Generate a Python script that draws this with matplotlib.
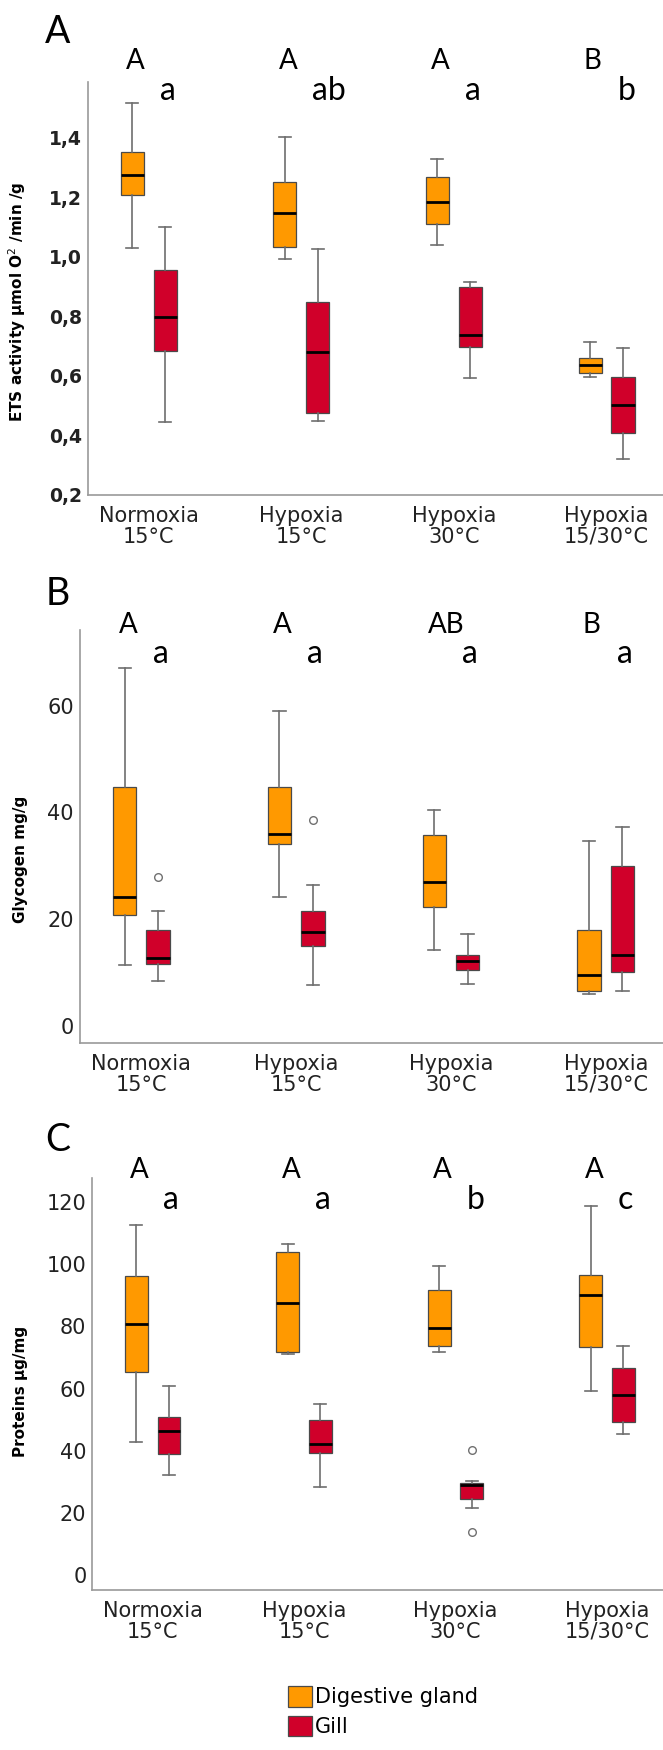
import matplotlib.pyplot as plt
from matplotlib.patches import Patch

plt.rcParams['font.family'] = ['DejaVu Sans']

groups = ["Normoxia\n15°C", "Hypoxia\n15°C", "Hypoxia\n30°C", "Hypoxia\n15/30°C"]
tissues = ["Digestive gland", "Gill"]
colors = ["#FF9900", "#D0002A"]

# each row: whisker low, Q1, median, Q3, whisker high
ets_dg = [[1.028, 1.207, 1.273, 1.352, 1.518],
          [0.991, 1.032, 1.146, 1.250, 1.401],
          [1.040, 1.111, 1.185, 1.268, 1.327],
          [0.597, 0.609, 0.636, 0.658, 0.714]]
ets_gill = [[0.445, 0.682, 0.796, 0.955, 1.098],
            [0.446, 0.474, 0.681, 0.847, 1.024],
            [0.591, 0.696, 0.735, 0.898, 0.913],
            [0.319, 0.406, 0.500, 0.595, 0.694]]
ets_dg_out = [[], [], [], []]
ets_gill_out = [[], [], [], []]
ets_upper = ["A", "A", "A", "B"]
ets_lower = ["a", "ab", "a", "b"]
ets_ticks = [0.2, 0.4, 0.6, 0.8, 1.0, 1.2, 1.4]
ets_ticklabels = ["0,2", "0,4", "0,6", "0,8", "1,0", "1,2", "1,4"]

gly_dg = [[11.4, 20.8, 24.1, 44.8, 67.0],
          [24.2, 34.1, 36.0, 44.8, 59.1],
          [14.3, 22.3, 27.0, 35.8, 40.5],
          [6.0, 6.6, 9.6, 17.9, 34.6]]
gly_gill = [[8.4, 11.6, 12.8, 18.0, 21.6],
            [7.6, 14.9, 17.6, 21.6, 26.5],
            [7.9, 10.5, 12.1, 13.3, 17.3],
            [6.6, 10.1, 13.2, 29.9, 37.2]]
gly_dg_out = [[], [], [], []]
gly_gill_out = [[27.9], [38.5], [], []]
gly_upper = ["A", "A", "AB", "B"]
gly_lower = ["a", "a", "a", "a"]
gly_ticks = [0, 20, 40, 60]

prot_dg = [[42.9, 65.3, 80.7, 96.2, 112.6],
           [71.1, 71.8, 87.5, 103.9, 106.5],
           [71.8, 73.6, 79.4, 91.7, 99.5],
           [59.1, 73.4, 90.0, 96.4, 118.8]]
prot_gill = [[32.3, 38.9, 46.4, 50.7, 60.9],
             [28.4, 39.2, 42.0, 49.9, 55.1],
             [21.5, 24.6, 29.0, 29.7, 30.1],
             [45.5, 49.1, 57.8, 66.6, 73.7]]
prot_dg_out = [[], [], [], []]
prot_gill_out = [[], [], [40.1, 13.8], []]
prot_upper = ["A", "A", "A", "A"]
prot_lower = ["a", "a", "b", "c"]
prot_ticks = [0, 20, 40, 60, 80, 100, 120]

W, H = 663, 1750
fig = plt.figure(figsize=(W / 100, H / 100), dpi=100)


def add_axes(left, top, bottom):
    # pixel positions -> figure fraction
    return fig.add_axes([left / W, 1 - bottom / H, 1 - left / W, (bottom - top) / H])


def stats_of(rows, outliers):
    return [dict(whislo=r[0], q1=r[1], med=r[2], q3=r[3], whishi=r[4], fliers=o)
            for r, o in zip(rows, outliers)]


def draw_panel(ax, dg, gill, dg_out, gill_out, ylim, ticks, ticklabels, bold,
               ylabel, label_xy, upper, lower, y_up, y_low):
    x = range(len(groups))
    off = 0.108
    for rows, outs, color, shift in [(dg, dg_out, colors[0], -off),
                                     (gill, gill_out, colors[1], off)]:
        ax.bxp(stats_of(rows, outs), positions=[i + shift for i in x], widths=0.151,
               patch_artist=True, capwidths=0.08,
               boxprops=dict(facecolor=color, edgecolor="#4a4a4a", linewidth=0.9),
               medianprops=dict(color="black", linewidth=2.0),
               whiskerprops=dict(color="#6e6e6e", linewidth=1.2),
               capprops=dict(color="#6e6e6e", linewidth=1.2),
               flierprops=dict(marker="o", markerfacecolor="none",
                               markeredgecolor="#707070", markersize=5.5))
    ax.set_xlim(-0.4, 3.37)
    ax.set_ylim(*ylim)
    ax.set_xticks(list(x))
    ax.set_xticklabels(groups, fontsize=15, color="#222222", linespacing=1.05)
    ax.set_yticks(ticks)
    ax.set_yticklabels(ticklabels, fontsize=13.5 if bold else 15,
                       fontweight="bold" if bold else "normal", color="#222222")
    ax.tick_params(length=0, pad=4)
    ax.tick_params(axis="x", pad=8)
    for s in ["top", "right"]:
        ax.spines[s].set_visible(False)
    for s in ["left", "bottom"]:
        ax.spines[s].set_color("#9a9a9a")
        ax.spines[s].set_linewidth(1.2)
    ax.set_ylabel(ylabel, fontsize=11, fontweight="bold")
    ax.yaxis.set_label_coords(*label_xy)
    tr = ax.get_xaxis_transform()
    for i in x:
        ax.text(i - off - 0.04, y_up, upper[i], transform=tr, ha="left", va="baseline",
                fontsize=20, family="Lato", clip_on=False)
        ax.text(i + off - 0.036, y_low, lower[i], transform=tr, ha="left", va="baseline",
                fontsize=23, family="Lato", clip_on=False)


ax_a = add_axes(87.5, 82, 494.6)
draw_panel(ax_a, ets_dg, ets_gill, ets_dg_out, ets_gill_out, (0.2, 1.587),
           ets_ticks, ets_ticklabels, True,
           "ETS activity µmol O$^{2}$ /min /g", (-0.103, 0.467),
           ets_upper, ets_lower, 1.031, 0.956)

ax_b = add_axes(79.5, 630, 1043)
draw_panel(ax_b, gly_dg, gly_gill, gly_dg_out, gly_gill_out, (-3.2, 74.2),
           gly_ticks, [str(t) for t in gly_ticks], False,
           "Glycogen mg/g", (-0.088, 0.445),
           gly_upper, gly_lower, 0.993, 0.919)

ax_c = add_axes(92, 1178, 1590)
draw_panel(ax_c, prot_dg, prot_gill, prot_dg_out, prot_gill_out, (-4.8, 127.7),
           prot_ticks, [str(t) for t in prot_ticks], False,
           "Proteins µg/mg", (-0.112, 0.483),
           prot_upper, prot_lower, 1.0, 0.925)

for letter, y in [("A", 32), ("B", 594), ("C", 1140)]:
    fig.text(58 / W, 1 - y / H, letter, fontsize=27, family="Lato",
             ha="center", va="center")

handles = [Patch(facecolor=c, edgecolor="#4a4a4a", linewidth=0.9) for c in colors]
fig.legend(handles, tissues, loc="upper left", bbox_to_anchor=(288 / W, 1 - 1686 / H),
           frameon=False, fontsize=15, handlelength=1.15, handleheight=1.15,
           handletextpad=0.15, labelspacing=0.4, borderpad=0, borderaxespad=0)

fig.savefig("out.png", dpi=100)
